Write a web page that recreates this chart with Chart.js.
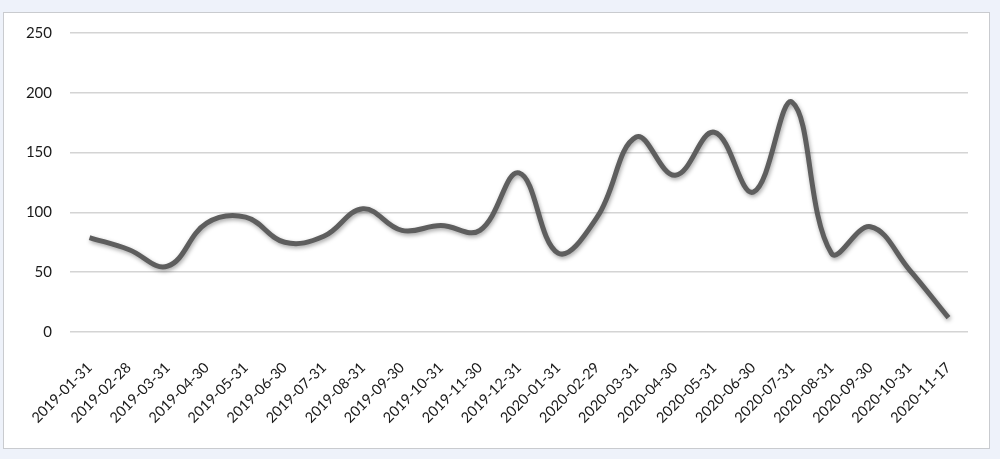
<!DOCTYPE html>
<html>
<head>
<meta charset="utf-8">
<script src="https://cdn.jsdelivr.net/npm/chart.js@4"></script>
<style>
    html, body { margin: 0; padding: 0; background: #eef2fa; }
    body { width: 1000px; height: 459px; position: relative; overflow: hidden; }
    .panel {
        position: absolute; left: 3px; top: 12px; width: 985px; height: 435px;
        background: #fff; border: 1px solid #c9cbcf;
    }
    #chart { position: absolute; left: 0; top: 0; }
</style>
</head>
<body>
<div class="panel"></div>
<canvas id="chart" width="1000" height="459"></canvas>
<script>
// Dates on the x axis
const dates = [
    '2019-01-31', '2019-02-28', '2019-03-31', '2019-04-30', '2019-05-31', '2019-06-30',
    '2019-07-31', '2019-08-31', '2019-09-30', '2019-10-31', '2019-11-30', '2019-12-31',
    '2020-01-31', '2020-02-29', '2020-03-31', '2020-04-30', '2020-05-31', '2020-06-30',
    '2020-07-31', '2020-08-31', '2020-09-30', '2020-10-31', '2020-11-17'
];

// Values
const values = [
    79, 69, 55, 91, 96, 75, 80, 103, 85, 89, 85, 133,
    66, 96, 163, 131, 167, 117, 192, 66, 88, 52, 12
];

const yTicks = [0, 50, 100, 150, 200, 250];

// Soft drop shadow under the line, like the original
const shadowPlugin = {
    id: 'lineShadow',
    beforeDatasetsDraw(chart) {
        const ctx = chart.ctx;
        ctx.save();
        ctx.shadowColor = 'rgba(0, 0, 0, 0.35)';
        ctx.shadowBlur = 4;
        ctx.shadowOffsetX = 1;
        ctx.shadowOffsetY = 2;
    },
    afterDatasetsDraw(chart) {
        chart.ctx.restore();
    }
};

new Chart(document.getElementById('chart'), {
    type: 'line',
    data: {
        labels: dates,
        datasets: [{
            data: values,
            borderColor: '#5e5e5e',
            borderWidth: 5,
            tension: 0.4,
            pointRadius: 0,
            fill: false
        }]
    },
    options: {
        responsive: false,
        animation: false,
        layout: {
            padding: { top: 33, right: 32, bottom: 0, left: 0 }
        },
        plugins: {
            legend: { display: false },
            tooltip: { enabled: false }
        },
        scales: {
            x: {
                offset: true,
                grid: { display: false, drawTicks: false },
                border: { display: false },
                ticks: {
                    autoSkip: false,
                    minRotation: 45,
                    maxRotation: 45,
                    padding: 27,
                    color: '#1a1a1a',
                    font: { family: 'Lato', size: 14.5 }
                },
                afterFit(scale) {
                    scale.height = 127;
                }
            },
            y: {
                min: 0,
                max: 250,
                afterBuildTicks(scale) {
                    scale.ticks = yTicks.map(v => ({ value: v }));
                },
                grid: { color: '#d4d4d4', lineWidth: 1.5, drawTicks: false },
                border: { display: false },
                ticks: {
                    padding: 18,
                    color: '#1a1a1a',
                    font: { family: 'Lato', size: 15 }
                },
                afterFit(scale) {
                    scale.width = 70;
                }
            }
        }
    },
    plugins: [shadowPlugin]
});
</script>
</body>
</html>
